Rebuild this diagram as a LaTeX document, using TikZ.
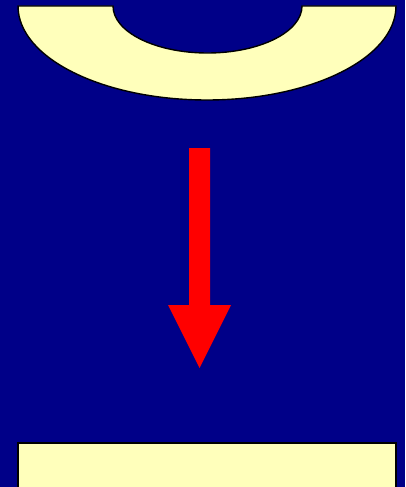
\documentclass[tikz,border=0pt]{standalone}
\usepackage{tikz}

\definecolor{navy}{HTML}{000088}
\definecolor{paleyellow}{HTML}{FFFFBB}
\tikzset{
  pale/.style={fill=paleyellow, draw=black, line width=1.4pt},
  redarrow/.style={fill=red, draw=none}
}

\begin{document}
\begin{tikzpicture}[x=1pt, y=1pt]
  % background
  \fill[navy] (0,0) rectangle (405,-487);
  \useasboundingbox (0,0) rectangle (405,-487);
  \clip (0,0) rectangle (405,-487);

  % bowl at the top
  \draw[pale] (18,-6) -- (113,-6)
    arc[start angle=180, end angle=360, x radius=94.5pt, y radius=47pt]
    -- (396,-6)
    arc[start angle=0, end angle=-180, x radius=189pt, y radius=94pt]
    -- cycle;

  % arrow pointing down
  \fill[redarrow] (189,-148) -- (210,-148) -- (210,-305) -- (231,-305)
    -- (199.5,-368) -- (168,-305) -- (189,-305) -- cycle;

  % box at the bottom
  \draw[pale] (18,-443) rectangle (396,-500);
\end{tikzpicture}
\end{document}
